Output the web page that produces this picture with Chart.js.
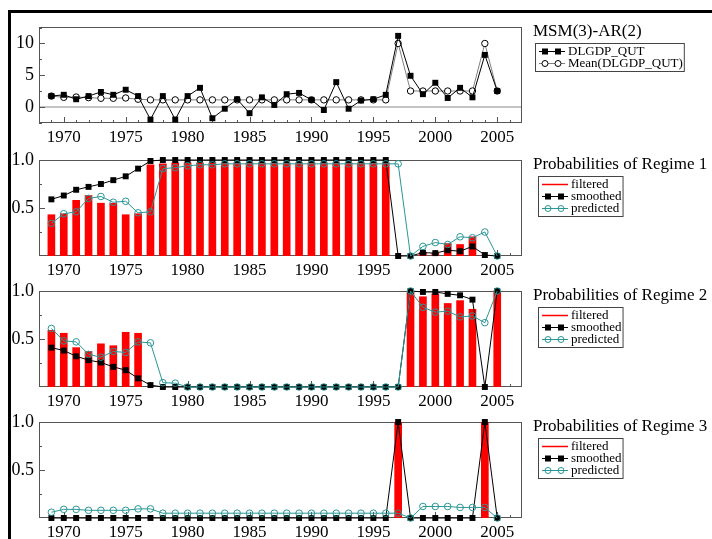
<!DOCTYPE html>
<html>
<head>
<meta charset="utf-8">
<script src="https://cdn.jsdelivr.net/npm/chart.js@4.4.0/dist/chart.umd.min.js"></script>
<style>
  html, body { margin: 0; padding: 0; background: #fff; overflow: hidden; }
  #wrap { position: relative; width: 712px; height: 539px; }
  #wrap canvas { position: absolute; left: 0; }
  #frame { position: absolute; left: 8px; top: 10px; width: 720px; height: 540px;
           border-top: 3px solid #000; border-left: 3px solid #000; pointer-events: none; }
</style>
</head>
<body>
<div id="wrap">
  <canvas id="p0" width="712" height="137" style="top:10px"></canvas>
  <canvas id="p1" width="712" height="137" style="top:143px"></canvas>
  <canvas id="p2" width="712" height="137" style="top:274px"></canvas>
  <canvas id="p3" width="712" height="137" style="top:405px"></canvas>
  <div id="frame"></div>
</div>
<script>
const years = [1969, 1970, 1971, 1972, 1973, 1974, 1975, 1976, 1977, 1978,
               1979, 1980, 1981, 1982, 1983, 1984, 1985, 1986, 1987, 1988,
               1989, 1990, 1991, 1992, 1993, 1994, 1995, 1996, 1997, 1998,
               1999, 2000, 2001, 2002, 2003, 2004, 2005];
const xTicks = [1970, 1975, 1980, 1985, 1990, 1995, 2000, 2005];
const gdpTicks = [0, 5, 10];
const probTicks = [0.5, 1.0];
const titles = ['MSM(3)-AR(2)', 'Probabilities of Regime 1',
                'Probabilities of Regime 2', 'Probabilities of Regime 3'];

const gdp = [1.7, 1.9, 1.2, 1.7, 2.35, 1.9, 2.7, 1.7, -2.0, 1.7,
             -2.0, 1.7, 3.0, -1.8, -0.3, 1.2, -1.0, 1.5, 0.3, 2.0,
             2.2, 1.1, -0.5, 3.9, -0.3, 1.0, 1.2, 1.9, 11.2, 4.9,
             2.0, 3.8, 1.4, 3.0, 1.5, 8.2, 2.5];
const gdpMean = [1.7, 1.5, 1.55, 1.45, 1.35, 1.35, 1.4, 1.2, 1.1, 1.1,
                 1.1, 1.1, 1.1, 1.1, 1.1, 1.1, 1.1, 1.1, 1.1, 1.1,
                 1.1, 1.1, 1.1, 1.1, 1.1, 1.1, 1.1, 1.1, 10.0, 2.5,
                 2.5, 2.5, 2.5, 2.5, 2.5, 10.0, 2.5];

const filtered1 = [0.43, 0.44, 0.58, 0.63, 0.55, 0.55, 0.43, 0.44, 0.95, 0.96,
                   0.97, 0.97, 0.97, 0.97, 0.97, 0.97, 0.97, 0.97, 0.97, 0.97,
                   0.97, 0.97, 0.97, 0.97, 0.97, 0.97, 0.97, 0.97, 0, 0,
                   0.04, 0.03, 0.13, 0.12, 0.2, 0, 0];
const smoothed1 = [0.59, 0.63, 0.69, 0.72, 0.75, 0.79, 0.83, 0.91, 0.99, 1,
                   1, 1, 1, 1, 1, 1, 1, 1, 1, 1,
                   1, 1, 1, 1, 1, 1, 1, 1, 0, 0,
                   0.035, 0.03, 0.06, 0.05, 0.1, 0.01, 0];
const predicted1 = [0.34, 0.44, 0.46, 0.6, 0.62, 0.56, 0.57, 0.45, 0.46, 0.91,
                    0.92, 0.94, 0.95, 0.95, 0.96, 0.96, 0.96, 0.96, 0.96, 0.96,
                    0.96, 0.96, 0.96, 0.96, 0.96, 0.96, 0.96, 0.96, 0.96, 0,
                    0.1, 0.14, 0.12, 0.2, 0.19, 0.25, 0];

const filtered2 = [0.59, 0.56, 0.41, 0.37, 0.45, 0.43, 0.57, 0.56, 0, 0,
                   0, 0, 0, 0, 0, 0, 0, 0, 0, 0,
                   0, 0, 0, 0, 0, 0, 0, 0, 0, 1.0,
                   0.94, 0.97, 0.87, 0.9, 0.81, 0, 1.0];
const smoothed2 = [0.41, 0.38, 0.32, 0.28, 0.255, 0.21, 0.175, 0.09, 0.02, 0,
                   0, 0, 0, 0, 0, 0, 0, 0, 0, 0,
                   0, 0, 0, 0, 0, 0, 0, 0, 0, 1.0,
                   0.99, 0.99, 0.97, 0.955, 0.91, 0, 1.0];
const predicted2 = [0.61, 0.48, 0.47, 0.34, 0.31, 0.37, 0.36, 0.47, 0.46, 0.045,
                    0.04, 0, 0, 0, 0, 0, 0, 0, 0, 0,
                    0, 0, 0, 0, 0, 0, 0, 0, 0, 1.0,
                    0.83, 0.78, 0.79, 0.73, 0.74, 0.67, 1.0];

const filtered3 = [0, 0, 0, 0, 0, 0, 0, 0, 0, 0,
                   0, 0, 0, 0, 0, 0, 0, 0, 0, 0,
                   0, 0, 0, 0, 0, 0, 0, 0, 1, 0,
                   0, 0, 0, 0, 0, 1, 0];
const smoothed3 = [0, 0, 0, 0, 0, 0, 0, 0, 0, 0,
                   0, 0, 0, 0, 0, 0, 0, 0, 0, 0,
                   0, 0, 0, 0, 0, 0, 0, 0, 1, 0,
                   0, 0, 0, 0, 0, 1, 0];
const predicted3 = [0.06, 0.09, 0.09, 0.08, 0.08, 0.08, 0.08, 0.095, 0.095, 0.05,
                    0.05, 0.05, 0.05, 0.05, 0.05, 0.05, 0.05, 0.05, 0.05, 0.05,
                    0.05, 0.05, 0.05, 0.05, 0.05, 0.05, 0.05, 0.05, 0.05, 0,
                    0.12, 0.12, 0.12, 0.11, 0.11, 0.11, 0];

const SERIF = '"Liberation Serif", "Times New Roman", serif';
const TEAL = '#2a9696';
Chart.defaults.font.family = SERIF;
Chart.defaults.font.size = 17;
Chart.defaults.color = '#000';

const pts = vals => years.map((yr, i) => ({x: yr, y: vals[i]}));

function marker(ctx, style, x, y, fill, stroke) {
  ctx.beginPath();
  if (style === 'rect') {
    ctx.fillStyle = fill;
    ctx.fillRect(x - 3, y - 3, 6, 6);
  } else {
    ctx.arc(x, y, 3, 0, Math.PI * 2);
    ctx.fillStyle = fill;
    if (fill !== 'transparent') ctx.fill();
    ctx.strokeStyle = stroke;
    ctx.lineWidth = 1;
    ctx.stroke();
  }
}

// box round the plot and small inner tick marks
const boxTicks = {
  id: 'boxTicks',
  beforeDatasetsDraw(chart, args, o) {
    const {ctx, chartArea: a, scales: {x, y}} = chart;
    ctx.save();
    ctx.strokeStyle = '#555';
    ctx.lineWidth = 1;
    ctx.beginPath();
    for (let v = Math.floor(x.min) + 1; v < x.max; v++) {
      const px = Math.round(x.getPixelForValue(v)) + 0.5;
      const len = v % 5 === 0 ? 6 : 3;
      ctx.moveTo(px, a.bottom);
      ctx.lineTo(px, a.bottom - len);
    }
    for (let k = Math.ceil(y.min / o.minor); k * o.minor < y.max; k++) {
      const v = k * o.minor;
      if (v <= y.min + 1e-9) continue;
      const r = v / o.major;
      const len = Math.abs(r - Math.round(r)) < 1e-6 ? 6 : 3;
      const py = Math.round(y.getPixelForValue(v)) + 0.5;
      ctx.moveTo(a.left, py);
      ctx.lineTo(a.left + len, py);
    }
    ctx.stroke();
    ctx.strokeRect(Math.round(a.left) + 0.5, Math.round(a.top) + 0.5,
                   Math.round(a.width) - 1, Math.round(a.height) - 1);
    ctx.restore();
  }
};

// title and boxed legend to the right of each plot
const sideLegend = {
  id: 'sideLegend',
  afterDraw(chart, args, o) {
    const {ctx, chartArea: a} = chart;
    const sets = chart.data.datasets;
    ctx.save();
    ctx.fillStyle = '#000';
    ctx.textBaseline = 'middle';
    ctx.textAlign = 'left';
    ctx.font = '17px ' + SERIF;
    ctx.fillText(o.title, a.right + 11, a.top + 5);
    ctx.font = '13px ' + SERIF;
    const maxW = Math.max(...sets.map(d => ctx.measureText(d.label).width));
    const bx = a.right + o.dx, by = a.top + 16;
    const bw = 33 + maxW + 1, bh = sets.length * 12 + 4;
    ctx.fillStyle = '#fff';
    ctx.fillRect(bx, by, bw, bh);
    ctx.strokeStyle = '#444';
    ctx.lineWidth = 1;
    ctx.strokeRect(bx + 0.5, by + 0.5, bw, bh);
    sets.forEach((d, i) => {
      const cy = Math.round(by + 8 + i * 12) + 0.5;
      ctx.beginPath();
      ctx.moveTo(bx + 4, cy);
      ctx.lineTo(bx + 30, cy);
      ctx.strokeStyle = d.type === 'bar' ? d.backgroundColor : d.borderColor;
      ctx.lineWidth = d.type === 'bar' ? 1.5 : 1;
      ctx.stroke();
      if (d.type !== 'bar') {
        marker(ctx, d.pointStyle, bx + 10, cy, d.pointBackgroundColor, d.pointBorderColor);
        marker(ctx, d.pointStyle, bx + 23, cy, d.pointBackgroundColor, d.pointBorderColor);
      }
      ctx.fillStyle = '#000';
      ctx.fillText(d.label, bx + 33, cy);
    });
    ctx.restore();
  }
};

function panel(id, title, datasets, yMin, yMax, yTicks, yMinor, fmt, zero, dx) {
  return new Chart(document.getElementById(id), {
    type: 'line',
    data: {datasets: datasets},
    options: {
      responsive: false,
      animation: false,
      events: [],
      layout: {padding: {left: 0, right: 190, top: 17, bottom: 0}},
      plugins: {
        legend: {display: false},
        tooltip: {enabled: false},
        boxTicks: {major: yTicks[1] - yTicks[0], minor: yMinor},
        sideLegend: {title: title, dx: dx}
      },
      scales: {
        x: {
          type: 'linear',
          min: 1968,
          max: 2007,
          offset: false,
          afterBuildTicks: s => { s.ticks = xTicks.map(v => ({value: v})); },
          afterFit: s => { s.height = 24; },
          grid: {display: false, drawTicks: false, offset: false},
          border: {display: false},
          ticks: {padding: 4, maxRotation: 0, autoSkip: false, callback: v => String(v)}
        },
        y: {
          min: yMin,
          max: yMax,
          afterBuildTicks: s => { s.ticks = yTicks.map(v => ({value: v})); },
          afterFit: s => { s.width = 39; },
          grid: {
            drawTicks: false,
            lineWidth: 2,
            color: c => (zero && c.tick && c.tick.value === 0) ? '#c4c4c4' : 'rgba(0,0,0,0)'
          },
          border: {display: false},
          ticks: {padding: 5, font: {size: 18}, callback: fmt}
        }
      }
    },
    plugins: [boxTicks, sideLegend]
  });
}

function regimeSets(f, s, p) {
  return [
    {type: 'bar', label: 'filtered', data: pts(f), backgroundColor: '#ff0000',
     borderWidth: 0, barThickness: 7, order: 3},
    {type: 'line', label: 'smoothed', data: pts(s), borderColor: '#000', borderWidth: 1,
     tension: 0, pointStyle: 'rect', pointRadius: 4.2, pointBackgroundColor: '#000',
     pointBorderColor: '#000', pointBorderWidth: 0, order: 2, clip: 8},
    {type: 'line', label: 'predicted', data: pts(p), borderColor: TEAL, borderWidth: 1,
     tension: 0, pointStyle: 'circle', pointRadius: 3.3, pointBackgroundColor: 'transparent',
     pointBorderColor: TEAL, pointBorderWidth: 1, order: 1, clip: 8}
  ];
}

panel('p0', titles[0], [
  {type: 'line', label: 'DLGDP_QUT', data: pts(gdp), borderColor: '#000', borderWidth: 1,
   tension: 0, pointStyle: 'rect', pointRadius: 4.2, pointBackgroundColor: '#000',
   pointBorderColor: '#000', pointBorderWidth: 0, order: 1, clip: 8},
  {type: 'line', label: 'Mean(DLGDP_QUT)', data: pts(gdpMean), borderColor: '#808080', borderWidth: 1,
   tension: 0, pointStyle: 'circle', pointRadius: 3.2, pointBackgroundColor: '#fff',
   pointBorderColor: '#000', pointBorderWidth: 1, order: 2, clip: 8}
], -2.55, 12.6, gdpTicks, 2.5, v => String(v), true, 13);

panel('p1', titles[1], regimeSets(filtered1, smoothed1, predicted1),
      0, 1, probTicks, 0.25, v => v.toFixed(1), false, 16);
panel('p2', titles[2], regimeSets(filtered2, smoothed2, predicted2),
      0, 1, probTicks, 0.25, v => v.toFixed(1), false, 16);
panel('p3', titles[3], regimeSets(filtered3, smoothed3, predicted3),
      0, 1, probTicks, 0.25, v => v.toFixed(1), false, 16);
</script>
</body>
</html>
